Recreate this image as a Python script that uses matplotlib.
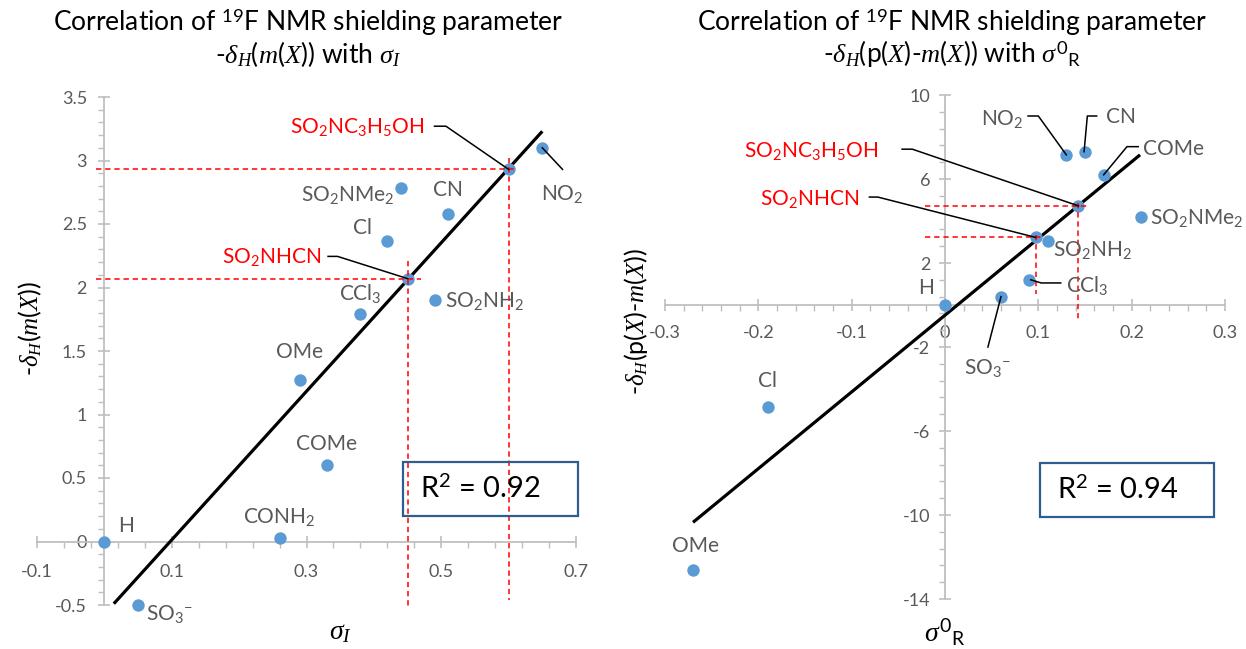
import numpy as np
import matplotlib
matplotlib.use("Agg")
import matplotlib.pyplot as plt
from matplotlib.ticker import FixedLocator, FuncFormatter
from matplotlib.patches import Rectangle

plt.rcParams['font.family'] = ['Lato', 'DejaVu Sans']
plt.rcParams['mathtext.fontset'] = 'custom'
plt.rcParams['mathtext.rm'] = 'Lato'
plt.rcParams['mathtext.it'] = 'Liberation Serif:italic'
plt.rcParams['mathtext.bf'] = 'Lato:bold'
plt.rcParams['axes.unicode_minus'] = False

# ---------------- data: left panel ----------------
left_names = ['H', 'SO3-', 'CONH2', 'COMe', 'OMe', 'CCl3', 'Cl', 'SO2NMe2', 'CN', 'SO2NH2', 'NO2']
left_sigma_I = [0.00, 0.05, 0.26, 0.33, 0.29, 0.38, 0.42, 0.44, 0.51, 0.49, 0.65]
left_dH = [0.00, -0.50, 0.03, 0.60, 1.27, 1.79, 2.37, 2.78, 2.58, 1.90, 3.10]
left_special_names = ['SO2NC3H5OH', 'SO2NHCN']
left_special_x = [0.60, 0.45]
left_special_y = [2.93, 2.07]
left_fit_x = [0.014, 0.65]
left_fit_y = [-0.49, 3.23]
left_r2 = 0.92

# ---------------- data: right panel ----------------
right_names = ['H', 'SO3-', 'CCl3', 'SO2NH2', 'SO2NMe2', 'COMe', 'CN', 'NO2', 'Cl', 'OMe']
right_sigma_R = [0.00, 0.06, 0.09, 0.11, 0.21, 0.17, 0.15, 0.13, -0.19, -0.27]
right_dH = [0.00, 0.40, 1.20, 3.03, 4.17, 6.20, 7.30, 7.15, -4.87, -12.62]
right_special_names = ['SO2NC3H5OH', 'SO2NHCN']
right_special_x = [0.143, 0.097]
right_special_y = [4.72, 3.22]
right_fit_x = [-0.27, 0.209]
right_fit_y = [-10.35, 7.15]
right_r2 = 0.94

left_xticks = [-0.1, 0.1, 0.3, 0.5, 0.7]
left_yticks = [-0.5, 0, 0.5, 1, 1.5, 2, 2.5, 3, 3.5]
right_xticks = [-0.3, -0.2, -0.1, 0, 0.1, 0.2, 0.3]
right_yticks = [-14, -10, -6, -2, 2, 6, 10]

# ---------------- label text (mathtext) ----------------
def fmt(name):
    out = ''
    math = ''
    for ch in name:
        if ch.isdigit():
            math += r'{}_{\mathrm{%s}}' % ch
        elif ch == '-':
            math += r'{}^{\mathrm{-}}'
        else:
            if math:
                out += '$' + math + '$'
                math = ''
            out += ch
    if math:
        out += '$' + math + '$'
    return out

# ---------------- layout of labels ----------------
# name: (x, y, ha, va, leader points)
left_layout = {
    'H': (0.02, 0.12, 'left', 'center', None),
    'SO3-': (0.062, -0.57, 'left', 'center', None),
    'CONH2': (0.26, 0.19, 'center', 'center', None),
    'COMe': (0.33, 0.77, 'center', 'center', None),
    'OMe': (0.29, 1.49, 'center', 'center', None),
    'CCl3': (0.38, 1.95, 'center', 'center', None),
    'Cl': (0.383, 2.47, 'center', 'center', None),
    'SO2NMe2': (0.43, 2.73, 'right', 'center', None),
    'CN': (0.51, 2.77, 'center', 'center', None),
    'SO2NH2': (0.505, 1.89, 'left', 'center', None),
    'NO2': (0.68, 2.74, 'center', 'center', [(0.65, 3.10), (0.68, 2.93)]),
    'SO2NC3H5OH': (0.475, 3.26, 'right', 'center', [(0.49, 3.27), (0.507, 3.27), (0.60, 2.93)]),
    'SO2NHCN': (0.322, 2.24, 'right', 'center', [(0.332, 2.245), (0.346, 2.245), (0.45, 2.07)]),
}
right_layout = {
    'H': (-0.02, 0.8, 'center', 'center', None),
    'SO3-': (0.045, -3.0, 'center', 'center', [(0.06, 0.4), (0.046, -2.0)]),
    'CCl3': (0.13, 0.95, 'left', 'center', [(0.092, 1.2), (0.103, 1.05), (0.124, 1.05)]),
    'SO2NH2': (0.116, 2.62, 'left', 'center', None),
    'SO2NMe2': (0.22, 4.15, 'left', 'center', None),
    'COMe': (0.212, 7.45, 'left', 'center', [(0.207, 7.54), (0.195, 7.54), (0.17, 6.2)]),
    'CN': (0.173, 8.95, 'left', 'center', [(0.1625, 9.0), (0.1525, 9.0), (0.149, 7.3)]),
    'NO2': (0.084, 8.85, 'right', 'center', [(0.089, 9.0), (0.10, 9.0), (0.13, 7.15)]),
    'Cl': (-0.19, -3.6, 'center', 'center', None),
    'OMe': (-0.267, -11.5, 'center', 'center', None),
    'SO2NC3H5OH': (-0.072, 7.33, 'right', 'center', [(-0.046, 7.42), (-0.035, 7.42), (0.143, 4.72)]),
    'SO2NHCN': (-0.092, 5.05, 'right', 'center', [(-0.081, 5.14), (-0.072, 5.14), (0.097, 3.22)]),
}
left_red = {  # dashed guide extents
    'h': [(2.93, -0.013, 0.612), (2.07, -0.013, 0.47)],
    'v': [(0.60, 3.02, -0.46), (0.45, 2.21, -0.535)],
}
right_red = {
    'h': [(4.72, -0.021, 0.154), (3.22, -0.021, 0.105)],
    'v': [(0.143, 4.85, -0.71), (0.097, 3.35, 0.52)],
}

W, H = 1246, 649
fig = plt.figure(figsize=(W / 100, H / 100), dpi=100)

def px_rect(l, t, r, b):
    return [l / W, 1 - b / H, (r - l) / W, (b - t) / H]

ax1 = fig.add_axes(px_rect(37, 97, 576, 605))
ax2 = fig.add_axes(px_rect(665, 95, 1225, 599))

BLUE = '#5B9BD5'
GRAY = '#595959'
AXC = '#BFBFBF'
RED = '#FF0000'
LABEL_FS = 15
TICK_FS = 13

def tickfmt(v, pos):
    s = ('%.2f' % v).rstrip('0').rstrip('.')
    if s == '-0':
        s = '0'
    return s

def style_axes(ax, xlim, ylim, xmaj, xmin, ymaj, ymin, xpad, ypad):
    ax.set_xlim(*xlim)
    ax.set_ylim(*ylim)
    ax.patch.set_alpha(0)
    for s in ['top', 'right']:
        ax.spines[s].set_visible(False)
    for s in ['left', 'bottom']:
        ax.spines[s].set_position(('data', 0))
        ax.spines[s].set_color(AXC)
        ax.spines[s].set_linewidth(1.3)
    ax.xaxis.set_major_locator(FixedLocator(xmaj))
    ax.xaxis.set_minor_locator(FixedLocator(xmin))
    ax.yaxis.set_major_locator(FixedLocator(ymaj))
    ax.yaxis.set_minor_locator(FixedLocator(ymin))
    ax.xaxis.set_major_formatter(FuncFormatter(tickfmt))
    ax.yaxis.set_major_formatter(FuncFormatter(tickfmt))
    ax.tick_params(which='major', direction='inout', length=9, width=1.2, color=AXC,
                   labelsize=TICK_FS, labelcolor=GRAY)
    ax.tick_params(which='minor', direction='out', length=4, width=1.0, color=AXC)
    ax.tick_params(axis='x', which='major', pad=xpad)
    ax.tick_params(axis='y', which='major', pad=ypad)

style_axes(ax1, (-0.1, 0.7), (-0.5, 3.5), left_xticks, np.arange(-0.1, 0.7001, 0.04),
           left_yticks, np.arange(-0.5, 3.5001, 0.1), 12, 8)
style_axes(ax2, (-0.3, 0.3), (-14, 10), right_xticks, np.arange(-0.3, 0.3001, 0.02),
           right_yticks, np.arange(-14, 10.001, 0.8), 10, 6)

def draw_panel(ax, xs, ys, names, sx, sy, snames, fx, fy, layout, red):
    ax.plot(fx, fy, color='black', lw=2.3, solid_capstyle='butt', zorder=3)
    ax.scatter(xs, ys, s=80, color=BLUE, zorder=4, clip_on=False, linewidths=0)
    ax.scatter(sx, sy, s=80, color=BLUE, zorder=4, clip_on=False, linewidths=0)
    for y, x0, x1 in red['h']:
        ax.plot([x0, x1], [y, y], color=RED, lw=1.1, ls=(0, (3.5, 2.5)), zorder=5, clip_on=False)
    for x, y0, y1 in red['v']:
        ax.plot([x, x], [y0, y1], color=RED, lw=1.1, ls=(0, (3.5, 2.5)), zorder=5, clip_on=False)
    for name in list(names) + list(snames):
        tx, ty, ha, va, leader = layout[name]
        col = RED if name in snames else GRAY
        ax.text(tx, ty, fmt(name), ha=ha, va=va, color=col, fontsize=LABEL_FS, zorder=6,
                clip_on=False)
        if leader:
            lx, ly = zip(*leader)
            ax.plot(lx, ly, color='black', lw=1.1, zorder=5, clip_on=False)

draw_panel(ax1, left_sigma_I, left_dH, left_names, left_special_x, left_special_y,
           left_special_names, left_fit_x, left_fit_y, left_layout, left_red)
draw_panel(ax2, right_sigma_R, right_dH, right_names, right_special_x, right_special_y,
           right_special_names, right_fit_x, right_fit_y, right_layout, right_red)

# titles
TFS = 19
fig.text(308 / W, 1 - 31 / H, r'Correlation of $^{\mathrm{19}}$F NMR shielding parameter',
         ha='center', va='baseline', fontsize=TFS)
fig.text(308 / W, 1 - 63 / H, r'-$\delta_H(m(X))$ with $\sigma_I$',
         ha='center', va='baseline', fontsize=TFS)
fig.text(952 / W, 1 - 31 / H, r'Correlation of $^{\mathrm{19}}$F NMR shielding parameter',
         ha='center', va='baseline', fontsize=TFS)
fig.text(952 / W, 1 - 63 / H, r'-$\delta_H$(p$(X)$-$m(X)$) with $\sigma^{\mathrm{0}}{}_{\mathrm{R}}$',
         ha='center', va='baseline', fontsize=TFS)

# axis labels
ALFS = 18
fig.text(30 / W, 1 - 328 / H, r'-$\delta_H(m(X))$', rotation=90, ha='center', va='center', fontsize=ALFS)
fig.text(340 / W, 1 - 632 / H, r'$\sigma_I$', ha='center', va='center', fontsize=ALFS + 2)
fig.text(636 / W, 1 - 321 / H, r'-$\delta_H$(p$(X)$-$m(X)$)', rotation=90, ha='center', va='center', fontsize=ALFS)
fig.text(945 / W, 1 - 632 / H, r'$\sigma^{\mathrm{0}}{}_{\mathrm{R}}$', ha='center', va='center', fontsize=ALFS + 2)

# R^2 boxes
BOXC = '#2E5D8F'
for (l, t, r, b), val in [((403, 462, 578, 516), left_r2), ((1040, 463, 1214, 517), right_r2)]:
    fig.add_artist(Rectangle((l / W, 1 - b / H), (r - l) / W, (b - t) / H, transform=fig.transFigure,
                             fill=False, edgecolor=BOXC, lw=1.6))
    fig.text((l + 17) / W, 1 - (t + b) / 2 / H, r'R$^{\mathrm{2}}$ = %.2f' % val, ha='left', va='center',
             fontsize=21, color='black')

fig.savefig('out.png', dpi=100)
